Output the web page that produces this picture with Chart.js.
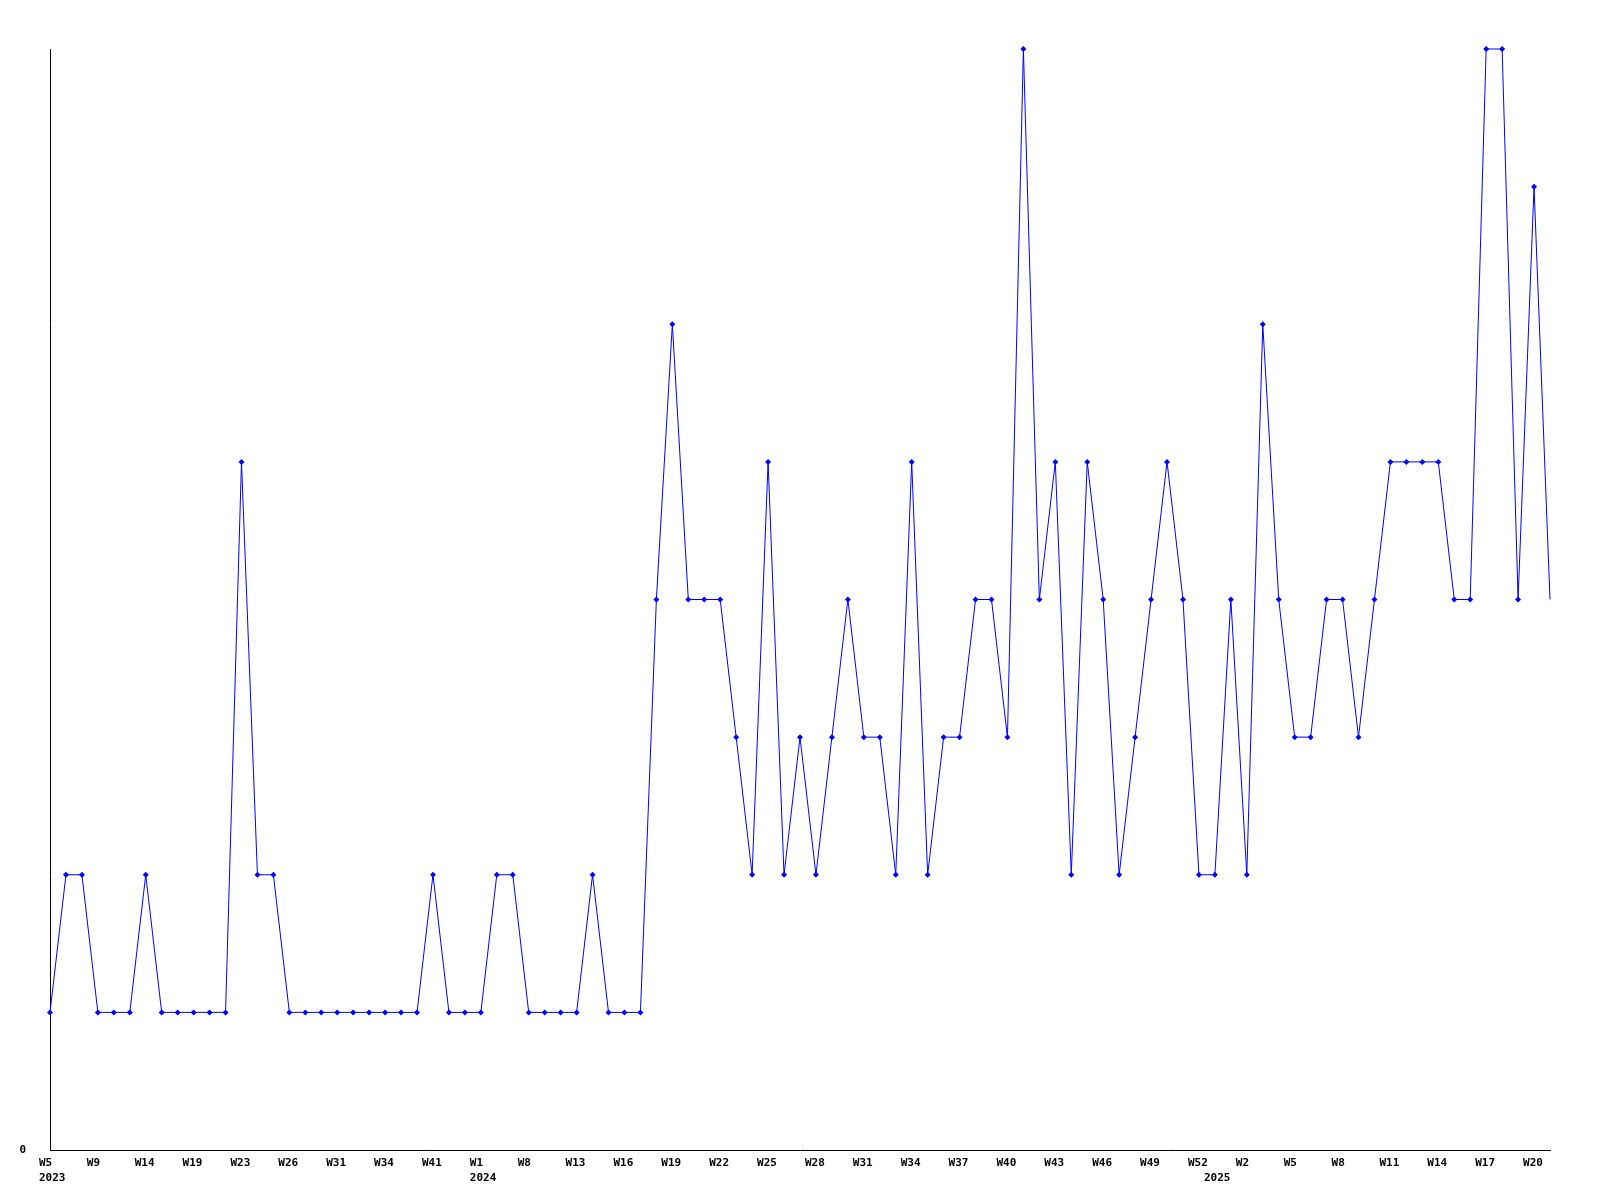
<!DOCTYPE html>
<html>
<head>
<meta charset="utf-8">
<script src="https://cdn.jsdelivr.net/npm/chart.js@4/dist/chart.umd.min.js"></script>
<style>
  body { margin: 0; background: #fff; }
  #wrap { width: 1600px; height: 1200px; }
</style>
</head>
<body>
<div id="wrap"><canvas id="chart" width="1600" height="1200"></canvas></div>
<script>
// one category per week that has data (gaps in 2023 and early 2024)
const weeks = [
  'W5', 'W6', 'W7', 'W9', 'W10', 'W12', 'W14', 'W15', 'W17', 'W19',
  'W20', 'W22', 'W23', 'W24', 'W25', 'W26', 'W28', 'W29', 'W31', 'W32',
  'W33', 'W34', 'W36', 'W38', 'W41', 'W44', 'W48',
  'W1', 'W3', 'W5', 'W8', 'W10', 'W11', 'W13', 'W14', 'W15', 'W16',
  'W17', 'W18', 'W19', 'W20', 'W21', 'W22', 'W23', 'W24', 'W25', 'W26',
  'W27', 'W28', 'W29', 'W30', 'W31', 'W32', 'W33', 'W34', 'W35', 'W36',
  'W37', 'W38', 'W39', 'W40', 'W41', 'W42', 'W43', 'W44', 'W45', 'W46',
  'W47', 'W48', 'W49', 'W50', 'W51', 'W52',
  'W0', 'W1', 'W2', 'W3', 'W4', 'W5', 'W6', 'W7', 'W8', 'W9',
  'W10', 'W11', 'W12', 'W13', 'W14', 'W15', 'W16', 'W17', 'W18', 'W19',
  'W20', 'W21'
];
const years = [
  ...Array(27).fill('2023'),
  ...Array(46).fill('2024'),
  ...Array(22).fill('2025')
];
const counts = [
  1, 2, 2, 1, 1, 1, 2, 1, 1, 1,
  1, 1, 5, 2, 2, 1, 1, 1, 1, 1,
  1, 1, 1, 1, 2, 1, 1, 1, 2, 2,
  1, 1, 1, 1, 2, 1, 1, 1, 4, 6,
  4, 4, 4, 3, 2, 5, 2, 3, 2, 3,
  4, 3, 3, 2, 5, 2, 3, 3, 4, 4,
  3, 8, 4, 5, 2, 5, 4, 2, 3, 4,
  5, 4, 2, 2, 4, 2, 6, 4, 3, 3,
  4, 4, 3, 4, 5, 5, 5, 5, 4, 4,
  8, 8, 4, 7, 4
];
const yTicks = [0];

const labelEvery = 3;
const font = { family: 'DejaVu Sans Mono', size: 11, weight: 'bold', lineHeight: 1.35 };
const last = counts.length - 1;

function tickLabel(i) {
  const firstOfYear = i === 0 || years[i] !== years[i - 1];
  const week = i % labelEvery === 0 ? weeks[i] : '';
  if (firstOfYear) return [week, years[i]];
  return week || null;
}

new Chart(document.getElementById('chart'), {
  type: 'line',
  data: {
    labels: weeks,
    datasets: [{
      data: counts,
      clip: false,
      borderColor: '#0000ff',
      backgroundColor: '#0000ff',
      borderWidth: 1,
      tension: 0,
      pointStyle: 'rectRot',
      pointRadius: ctx => ctx.dataIndex === last ? 0 : 3,
      pointBorderWidth: 0,
      pointBackgroundColor: '#0000ff'
    }]
  },
  options: {
    responsive: false,
    animation: false,
    layout: { padding: { top: 49, right: 50, left: 0, bottom: 0 } },
    plugins: {
      legend: { display: false },
      tooltip: { enabled: false }
    },
    scales: {
      x: {
        type: 'category',
        offset: false,
        grid: { display: false, drawTicks: false },
        border: { display: true, color: '#000', width: 1 },
        ticks: {
          autoSkip: false,
          maxRotation: 0,
          minRotation: 0,
          align: 'start',
          labelOffset: -11,
          padding: 6,
          color: '#000',
          font: font,
          callback: (v, i) => tickLabel(i)
        },
        afterFit: s => { s.height = 50; }
      },
      y: {
        min: 0,
        max: 8,
        grid: { display: false, drawTicks: false },
        border: { display: true, color: '#000', width: 1 },
        afterBuildTicks: s => { s.ticks = yTicks.map(v => ({ value: v })); },
        ticks: {
          padding: 24,
          color: '#000',
          font: font,
          callback: v => String(v)
        },
        afterFit: s => { s.width = 50; }
      }
    }
  }
});
</script>
</body>
</html>
